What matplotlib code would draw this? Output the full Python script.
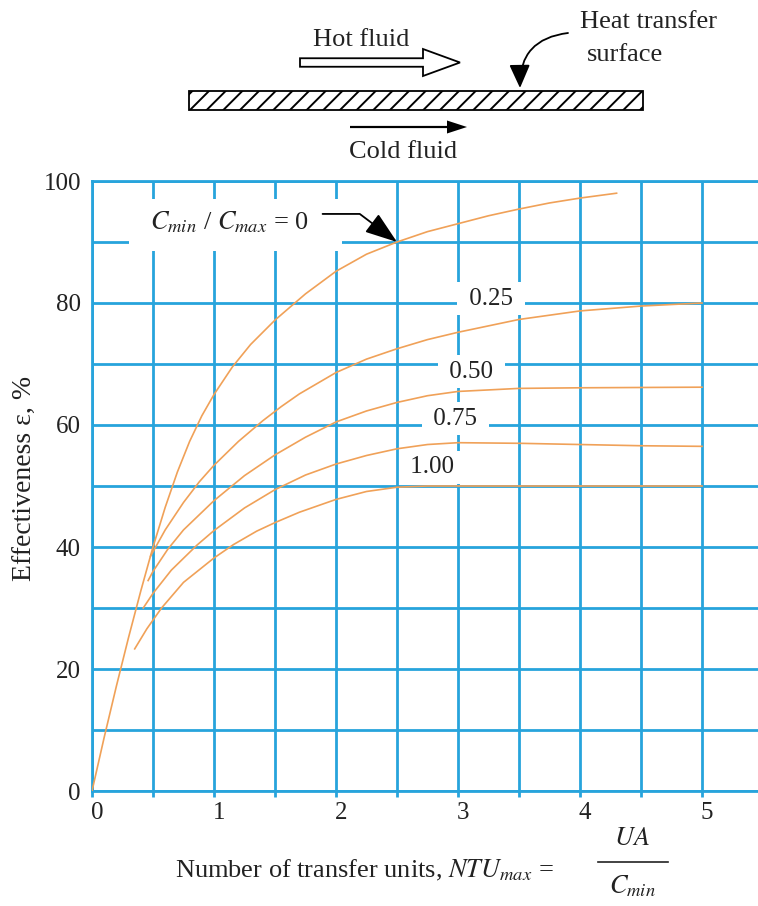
import matplotlib.pyplot as plt
import matplotlib.transforms as mtransforms
from matplotlib.patches import Rectangle, FancyArrow
from matplotlib.ticker import MultipleLocator

plt.rcParams['font.family'] = ['Liberation Serif', 'DejaVu Serif']
plt.rcParams['mathtext.fontset'] = 'stix'
plt.rcParams['hatch.linewidth'] = 1.4

# Curvas (NTU, efectividad %)
ntu_c0 = [0, 0.1, 0.2, 0.3, 0.4, 0.5, 0.6, 0.7, 0.8, 0.9, 1.0, 1.15, 1.3, 1.5,
          1.75, 2.0, 2.25, 2.5, 2.75, 3.0, 3.25, 3.5, 3.75, 4.0, 4.3]
eff_c0 = [0, 8.8, 17.2, 25.2, 32.8, 40, 46.5, 52.3, 57.3, 61.5, 65, 69.5,
          73.2, 77.2, 81.5, 85.2, 88, 90, 91.7, 93, 94.3, 95.4, 96.4, 97.2, 98]

ntu_c25 = [0.48, 0.6, 0.75, 0.88, 1.0, 1.2, 1.4, 1.55, 1.7, 2.0, 2.25, 2.5,
           2.75, 3.0, 3.5, 4.0, 4.5, 5.0]
eff_c25 = [38.5, 42.8, 47.3, 50.7, 53.4, 57.3, 60.7, 63, 65.1, 68.6, 70.8,
           72.5, 74, 75.2, 77.3, 78.7, 79.5, 80]

ntu_c50 = [0.46, 0.5, 0.62, 0.75, 1.0, 1.25, 1.5, 1.75, 2.0, 2.25, 2.5, 2.75,
           3.0, 3.5, 4.0, 5.0]
eff_c50 = [34.5, 36, 39.6, 42.8, 47.6, 51.7, 55.1, 58, 60.5, 62.3, 63.7, 64.8,
           65.5, 66, 66.1, 66.2]

ntu_c75 = [0.42, 0.5, 0.65, 0.86, 1.0, 1.25, 1.5, 1.75, 2.0, 2.25, 2.5, 2.75,
           3.0, 3.5, 4.0, 4.5, 5.0]
eff_c75 = [30, 32.4, 36.2, 40.3, 42.7, 46.4, 49.4, 51.8, 53.6, 55, 56.1, 56.8,
           57.1, 57, 56.8, 56.6, 56.5]

ntu_c100 = [0.35, 0.45, 0.57, 0.75, 1.0, 1.16, 1.35, 1.5, 1.7, 2.0, 2.25, 2.5,
            2.75, 3.0, 4.0, 5.0]
eff_c100 = [23.3, 26.6, 30, 34.2, 38.2, 40.4, 42.6, 44, 45.7, 47.8, 49.1, 49.8,
            50, 50, 50, 50]

curves = [(ntu_c0, eff_c0), (ntu_c25, eff_c25), (ntu_c50, eff_c50),
          (ntu_c75, eff_c75), (ntu_c100, eff_c100)]

x_ticks = [0, 1, 2, 3, 4, 5]
y_ticks = [0, 20, 40, 60, 80, 100]

GRID = '#27a4dc'
CURVE = '#f0a158'
INK = '#222222'

W, H = 758, 906
fig = plt.figure(figsize=(W / 100, H / 100), dpi=100)

# Ejes principales (la rejilla llega hasta el borde derecho)
ax = fig.add_axes([92 / W, (H - 791) / H, (W - 92) / W, (791 - 181) / H])
ax.set_xlim(0, (W - 92) / 122)
ax.set_ylim(0, 100)
ax.set_xticks(x_ticks)
ax.set_yticks(y_ticks)
ax.xaxis.set_minor_locator(MultipleLocator(0.5))
ax.yaxis.set_minor_locator(MultipleLocator(10))
ax.set_axisbelow(True)
ax.grid(which='both', color=GRID, lw=2)
for side in ['left', 'top', 'bottom']:
    ax.spines[side].set_color(GRID)
    ax.spines[side].set_linewidth(2)
ax.spines['right'].set_visible(False)
ax.tick_params(axis='x', which='both', length=4, width=2, color=GRID,
               labelsize=18, labelcolor=INK, pad=4)
ax.tick_params(axis='y', which='both', length=0, labelsize=18,
               labelcolor=INK, pad=8)
offset = mtransforms.ScaledTranslation(5 / 100, 0, fig.dpi_scale_trans)
for lab in ax.get_xticklabels():
    lab.set_transform(lab.get_transform() + offset)

for xs, ys in curves:
    ax.plot(xs, ys, color=CURVE, lw=1.2, zorder=3.5,
            solid_joinstyle='round')

# hueco blanco en la rejilla detrás de la etiqueta Cmin/Cmax
ax.add_patch(Rectangle((0.3, 88.6), 1.75, 8.4, facecolor='white',
                       edgecolor='none', zorder=2.5))
ax.text(1.13, 93.2, r'$C_{min}$ / $C_{max}$ = 0', fontsize=19, color=INK,
        ha='center', va='center', zorder=3)

box = dict(boxstyle='square,pad=0.22', facecolor='white', edgecolor='none')
ax.text(3.27, 80.7, ' 0.25 ', fontsize=18, color=INK, ha='center', va='center',
        zorder=3, bbox=box)
ax.text(3.11, 68.7, ' 0.50 ', fontsize=18, color=INK, ha='center', va='center',
        zorder=3, bbox=box)
ax.text(2.98, 61.0, ' 0.75 ', fontsize=18, color=INK, ha='center', va='center',
        zorder=3, bbox=box)
ax.text(2.79, 53.1, ' 1.00 ', fontsize=18, color=INK, ha='center', va='center',
        zorder=3, bbox=box)
ax.annotate('', xy=(2.5, 90), xytext=(1.89, 94.6), zorder=4,
            arrowprops=dict(arrowstyle='-|>,head_length=1.0,head_width=0.35',
                            connectionstyle='angle,angleA=0,angleB=-37,rad=0',
                            color='black', lw=1.3, shrinkA=0, shrinkB=0,
                            mutation_scale=20))

fig.text(25 / W, 1 - 478 / H, 'Effectiveness ε, %', rotation=90, fontsize=20,
         color=INK, ha='center', va='center')

# Capa superior en píxeles para el esquema y la etiqueta del eje x
ov = fig.add_axes([0, 0, 1, 1])
ov.set_xlim(0, W)
ov.set_ylim(H, 0)
ov.axis('off')
ov.patch.set_alpha(0)

ov.add_patch(Rectangle((189, 91), 454, 19, facecolor='white',
                       edgecolor='black', hatch='//', lw=1.3))
ov.add_patch(FancyArrow(300, 62.5, 160, 0, width=8.5, head_width=27,
                        head_length=37, length_includes_head=True,
                        facecolor='white', edgecolor='black', lw=1.3))
ov.add_patch(FancyArrow(350, 127, 117, 0, width=2.2, head_width=13,
                        head_length=20, length_includes_head=True,
                        color='black', lw=0))
ov.text(361, 40, 'Hot fluid', fontsize=19, color=INK, ha='center', va='center')
ov.text(403, 152, 'Cold fluid', fontsize=19, color=INK, ha='center', va='center')
ov.text(580, 22, 'Heat transfer', fontsize=19, color=INK, ha='left', va='center')
ov.text(587, 55, 'surface', fontsize=19, color=INK, ha='left', va='center')
ov.annotate('', xy=(520, 88), xytext=(568, 33),
            arrowprops=dict(arrowstyle='-|>,head_length=0.9,head_width=0.4',
                            connectionstyle='arc3,rad=0.45', color='black',
                            lw=1.3, shrinkA=0, shrinkB=0, mutation_scale=16))

ov.text(175, 870, 'Number of transfer units, $NTU_{max}$ =', fontsize=19,
        color=INK, ha='left', va='center')
ov.text(632, 839, '$UA$', fontsize=19, color=INK, ha='center', va='center')
ov.text(632, 886, '$C_{min}$', fontsize=19, color=INK, ha='center', va='center')
ov.plot([598, 668], [862, 862], color=INK, lw=1.2)

fig.savefig('out.png', dpi=100)
